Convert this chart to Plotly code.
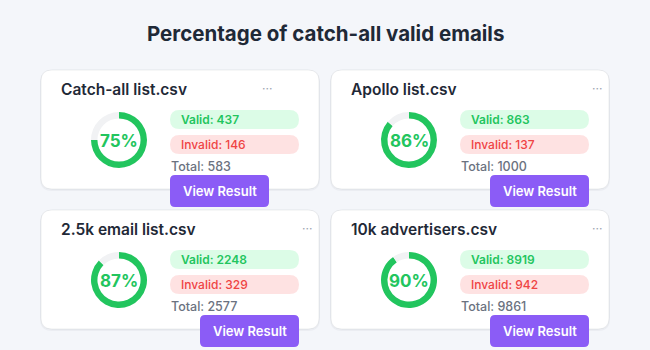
import plotly.graph_objects as go

# ---- data ----
files = ["Catch-all list.csv", "Apollo list.csv", "2.5k email list.csv", "10k advertisers.csv"]
valid = [437, 863, 2248, 8919]
invalid = [146, 137, 329, 942]
totals = [583, 1000, 2577, 9861]
chart_title = "Percentage of catch-all valid emails"

# ---- layout (pixels) ----
W, H = 650, 350
card_origin = [(41, 70), (331, 70), (41, 210), (331, 210)]
card_w, card_h = 278, 119
dots_dx = [226, 266, 266, 266]
button_dx = [129, 159, 159, 159]

FONT = "Inter"
GREEN = "#22c55e"
RED = "#ef4444"
PURPLE = "#8b5cf6"
DARK = "#1f2937"


def rrect(x0, y0, x1, y1, r):
    return (f"M{x0+r},{y0} L{x1-r},{y0} Q{x1},{y0} {x1},{y0+r} "
            f"L{x1},{y1-r} Q{x1},{y1} {x1-r},{y1} L{x0+r},{y1} "
            f"Q{x0},{y1} {x0},{y1-r} L{x0},{y0+r} Q{x0},{y0} {x0+r},{y0} Z")


fig = go.Figure()
shapes = []
annotations = []

annotations.append(dict(x=325, y=33, xref="x", yref="y", text=chart_title, showarrow=False,
                        font=dict(family=FONT, size=20.5, color=DARK, weight=700),
                        xanchor="center", yanchor="middle"))

for i, name in enumerate(files):
    cx, cy = card_origin[i]
    # shadow
    shapes.append(dict(type="path", path=rrect(cx - 1, cy, cx + card_w + 1, cy + card_h + 2, 12),
                       xref="x", yref="y", fillcolor="rgba(15,23,42,0.04)", line=dict(width=0), layer="below"))
    shapes.append(dict(type="path", path=rrect(cx, cy, cx + card_w, cy + card_h, 11),
                       xref="x", yref="y", fillcolor="white",
                       line=dict(color="rgba(15,23,42,0.07)", width=1), layer="below"))
    # title
    annotations.append(dict(x=cx + 18, y=cy + 19, xref="x", yref="y", text=name, showarrow=False,
                            font=dict(family=FONT, size=15.5, color=DARK, weight=600),
                            xanchor="left", yanchor="middle"))
    annotations.append(dict(x=cx + dots_dx[i], y=cy + 18, xref="x", yref="y", text="···", showarrow=False,
                            font=dict(family=FONT, size=12, color="#9ca3af"),
                            xanchor="center", yanchor="middle"))
    # donut
    dcx, dcy, r = cx + 78, cy + 70, 28
    fig.add_trace(go.Pie(values=[valid[i], invalid[i]], labels=["Valid", "Invalid"],
                         hole=0.77, sort=False, direction="clockwise", rotation=0,
                         marker=dict(colors=[GREEN, "#f1f2f4"], line=dict(width=0)),
                         textinfo="none", hoverinfo="label+value", showlegend=False,
                         domain=dict(x=[(dcx - r) / W, (dcx + r) / W],
                                     y=[1 - (dcy + r) / H, 1 - (dcy - r) / H])))
    pct = round(100 * valid[i] / totals[i])
    annotations.append(dict(x=dcx, y=dcy + 1, xref="x", yref="y", text=f"{pct}%", showarrow=False,
                            font=dict(family=FONT, size=17, color=GREEN, weight=700),
                            xanchor="center", yanchor="middle"))
    # pills
    px0, px1 = cx + 129, cx + 258
    shapes.append(dict(type="path", path=rrect(px0, cy + 40, px1, cy + 59, 9.5),
                       xref="x", yref="y", fillcolor="#dcfce7", line=dict(width=0)))
    shapes.append(dict(type="path", path=rrect(px0, cy + 65, px1, cy + 84, 9.5),
                       xref="x", yref="y", fillcolor="#fee2e2", line=dict(width=0)))
    annotations.append(dict(x=px0 + 9, y=cy + 49.5, xref="x", yref="y", text=f"Valid: {valid[i]}",
                            showarrow=False, font=dict(family=FONT, size=12, color=GREEN, weight=600),
                            xanchor="left", yanchor="middle"))
    annotations.append(dict(x=px0 + 9, y=cy + 74.5, xref="x", yref="y", text=f"Invalid: {invalid[i]}",
                            showarrow=False, font=dict(family=FONT, size=12, color=RED, weight=500),
                            xanchor="left", yanchor="middle"))
    annotations.append(dict(x=px0 - 1, y=cy + 96, xref="x", yref="y", text=f"Total: {totals[i]}",
                            showarrow=False, font=dict(family=FONT, size=12.5, color="#6b7280", weight=500),
                            xanchor="left", yanchor="middle"))
    # button
    bx0 = cx + button_dx[i]
    shapes.append(dict(type="path", path=rrect(bx0, cy + 105, bx0 + 99, cy + 137, 5),
                       xref="x", yref="y", fillcolor=PURPLE, line=dict(width=0)))
    annotations.append(dict(x=bx0 + 49.5, y=cy + 121, xref="x", yref="y", text="View Result",
                            showarrow=False, font=dict(family=FONT, size=13, color="white", weight=600),
                            xanchor="center", yanchor="middle"))

fig.update_layout(
    width=W, height=H, margin=dict(l=0, r=0, t=0, b=0),
    paper_bgcolor="#f4f6fa", plot_bgcolor="rgba(0,0,0,0)",
    xaxis=dict(range=[0, W], visible=False, fixedrange=True),
    yaxis=dict(range=[H, 0], visible=False, fixedrange=True),
    shapes=shapes, annotations=annotations, showlegend=False,
)
fig.write_html("out.html", config={"displayModeBar": False})
